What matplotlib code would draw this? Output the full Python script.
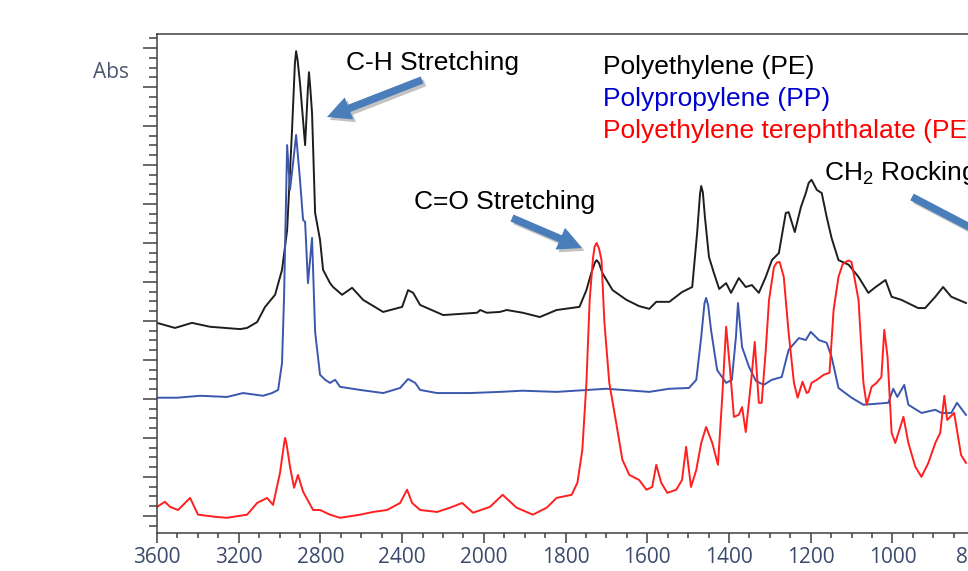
import numpy as np
import matplotlib
matplotlib.use('Agg')
import matplotlib.pyplot as plt
import matplotlib.patheffects as pe
from matplotlib.ticker import FixedLocator, NullFormatter

# wavenumber (cm-1) / absorbance (offset units)
pe_wn = [3600, 3512, 3429, 3340, 3193, 3159, 3110, 3071, 3022, 2988, 2963, 2939, 2925, 2919,
         2912, 2900, 2875, 2862, 2856, 2850, 2841, 2826, 2802, 2787, 2753, 2738, 2694, 2645, 2591, 2493,
         2400, 2371, 2346, 2312, 2199, 2116, 2033, 2018, 1993, 1961, 1944, 1905, 1863,
         1822, 1766, 1749, 1737, 1728, 1724, 1718, 1710, 1685, 1651, 1620, 1595, 1578, 1546, 1515,
         1490, 1478, 1471, 1468, 1464, 1459, 1449, 1437, 1424, 1407, 1395, 1376, 1359, 1344, 1327,
         1310, 1295, 1278, 1261, 1254, 1239, 1224, 1212, 1205, 1198, 1185, 1173, 1161,
         1149, 1132, 1107, 1083, 1059, 1041, 1017, 1002, 978, 937, 920, 895, 876, 856, 820]
pe_abs = [4.95, 4.82, 4.95, 4.85, 4.79, 4.82, 4.97, 5.36, 5.67, 6.31, 7.33, 9.90, 11.6, 11.92,
          11.7, 11.10, 9.51, 10.9, 11.38, 11.0, 10.33, 7.77, 7.08, 6.31, 5.97, 5.87, 5.67, 5.85, 5.54, 5.23,
          5.36, 5.79, 5.72, 5.41, 5.15, 5.18, 5.21, 5.28, 5.21, 5.23, 5.28, 5.21, 5.10,
          5.28, 5.36, 5.79, 6.23, 6.50, 6.56, 6.48, 6.23, 5.79, 5.54, 5.38, 5.31, 5.49, 5.49, 5.74,
          5.87, 7.26, 8.25, 8.46, 8.30, 7.67, 6.64, 6.23, 5.82, 5.97, 5.72, 6.10, 5.87, 5.92, 5.72,
          6.13, 6.56, 6.74, 7.77, 7.79, 7.28, 7.92, 8.28, 8.54, 8.62, 8.36, 8.28, 7.67,
          7.13, 6.56, 6.44, 6.13, 5.72, 5.87, 6.05, 5.62, 5.54, 5.33, 5.33, 5.62, 5.87, 5.62, 5.46]

pp_wn = [3600, 3502, 3389, 3257, 3179, 3081, 3037, 3007, 2988, 2978, 2963, 2949, 2934,
         2919, 2900, 2885, 2875, 2861, 2841, 2826, 2802, 2777, 2753, 2728, 2704, 2606,
         2493, 2410, 2371, 2336, 2312, 2229, 2067, 1961, 1905, 1822, 1700, 1595, 1546,
         1498, 1480, 1468, 1460, 1456, 1451, 1444, 1429, 1407, 1393, 1383, 1378, 1368, 1351, 1334,
         1315, 1295, 1271, 1254, 1229, 1212, 1200, 1180, 1161, 1149, 1132, 1100, 1071,
         1010, 998, 988, 971, 961, 929, 895, 880, 856, 842, 820]
pp_abs = [3.03, 3.03, 3.08, 3.05, 3.15, 3.08, 3.15, 3.23, 3.92, 5.62, 9.51, 8.36, 9.05,
          9.77, 8.62, 7.59, 7.54, 5.97, 7.13, 4.72, 3.62, 3.49, 3.41, 3.49, 3.31, 3.23,
          3.15, 3.28, 3.51, 3.41, 3.23, 3.15, 3.15, 3.18, 3.21, 3.18, 3.26, 3.18, 3.26,
          3.28, 3.49, 4.59, 5.45, 5.59, 5.40, 4.77, 3.74, 3.41, 3.49, 4.59, 5.46, 4.33, 3.82, 3.46,
          3.36, 3.49, 3.56, 4.26, 4.56, 4.51, 4.72, 4.51, 4.44, 4.08, 3.28, 3.03, 2.85,
          2.90, 3.26, 3.05, 3.36, 2.85, 2.64, 2.72, 2.64, 2.64, 2.90, 2.59]

pet_wn = [3600, 3561, 3536, 3497, 3438, 3399, 3306, 3257, 3159, 3110, 3061, 3032, 2998,
          2978, 2973, 2966, 2949, 2929, 2910, 2885, 2836, 2802, 2753, 2704, 2606, 2542, 2474, 2410,
          2376, 2351, 2312, 2229, 2165, 2106, 2053, 1985, 1954, 1920, 1880, 1846, 1822,
          1785, 1771, 1759, 1749, 1741, 1733, 1729, 1724, 1718, 1712, 1705, 1693, 1676, 1661, 1644,
          1620, 1602, 1588, 1578, 1566, 1551, 1529, 1515, 1505, 1493, 1480, 1468, 1456,
          1441, 1427, 1417, 1407, 1398, 1388, 1376, 1368, 1359, 1346, 1337, 1327, 1320,
          1310, 1302, 1290, 1283, 1276, 1266, 1254, 1241, 1232, 1220, 1210, 1205, 1198, 1185,
          1168, 1154, 1144, 1132, 1122, 1115, 1107, 1100, 1083, 1071, 1063, 1051, 1039, 1027, 1020,
          1012, 1002, 993, 973, 961, 944, 929, 912, 895, 883, 873, 866, 849, 832, 820]
pet_abs = [0.23, 0.36, 0.23, 0.15, 0.46, 0.03, -0.03, -0.05, 0.03, 0.33, 0.46, 0.28, 1.10,
           1.85, 2.00, 1.85, 1.26, 0.72, 1.05, 0.62, 0.15, 0.15, 0.03, -0.05, 0.03, 0.10, 0.15, 0.33,
           0.67, 0.33, 0.15, 0.10, 0.21, 0.33, 0.08, 0.23, 0.54, 0.21, 0.03, 0.21, 0.46,
           0.54, 0.85, 1.69, 3.41, 5.54, 6.60, 6.90, 7.00, 6.85, 6.56, 4.97, 3.41, 2.38, 1.44, 1.05,
           0.92, 0.67, 0.74, 1.31, 0.85, 0.59, 0.67, 0.92, 1.77, 0.74, 1.18, 1.87, 2.28,
           1.87, 1.31, 2.97, 4.85, 3.82, 2.54, 2.59, 2.79, 2.15, 3.44, 4.46, 2.90, 2.90,
           4.26, 5.54, 6.38, 6.50, 6.51, 6.13, 4.69, 3.41, 3.03, 3.44, 3.15, 3.18, 3.41, 3.49,
           3.62, 3.67, 5.28, 6.13, 6.45, 6.51, 6.55, 6.51, 5.54, 3.41, 2.85, 3.31, 3.41, 3.56, 4.77,
           4.08, 2.13, 1.87, 2.54, 1.87, 1.26, 1.00, 1.36, 1.87, 2.13, 3.08, 2.46, 2.64, 1.56, 1.36]

major_ticks = [3600, 3200, 2800, 2400, 2000, 1800, 1600, 1400, 1200, 1000, 800]
legend_names = ['Polyethylene (PE)', 'Polypropylene (PP)', 'Polyethylene terephthalate (PET)']


def fwd(w):
    # spectrometer view: 2x expansion below 2000 cm-1
    w = np.asarray(w, dtype=float)
    return np.where(w >= 2000, w, 2 * w - 2000)


def inv(u):
    u = np.asarray(u, dtype=float)
    return np.where(u >= 2000, u, (u + 2000) / 2)


plt.rcParams['font.family'] = ['Open Sans', 'DejaVu Sans']
plt.rcParams['mathtext.fontset'] = 'custom'
plt.rcParams['mathtext.rm'] = 'Liberation Sans'

W, H = 968, 571
fig = plt.figure(figsize=(W / 100, H / 100), dpi=100)
ax = fig.add_axes([157 / W, 38 / H, 858 / W, 499 / H])

ax.plot(pe_wn, pe_abs, color='#1e1e1e', lw=1.4, solid_joinstyle='round')
ax.plot(pp_wn, pp_abs, color='#3b57ad', lw=1.4, solid_joinstyle='round')
ax.plot(pet_wn, pet_abs, color='#ff1f1f', lw=1.4, solid_joinstyle='round')

ax.set_xscale('function', functions=(fwd, inv))
ax.set_xlim(3600, 700)
ax.set_ylim(-0.44, 12.36)

minor_x = list(range(3600, 2000, -100)) + list(range(2000, 699, -50))
ax.xaxis.set_major_locator(FixedLocator(major_ticks))
ax.xaxis.set_minor_locator(FixedLocator(minor_x))
ax.xaxis.set_minor_formatter(NullFormatter())
ax.set_xticklabels([str(t) for t in major_ticks])

ax.yaxis.set_major_locator(FixedLocator(np.arange(0, 13, 1)))
ax.yaxis.set_minor_locator(FixedLocator(np.arange(-0.25, 12.3, 0.25)))
ax.yaxis.set_major_formatter(NullFormatter())

axis_col = '#404040'
for s in ['left', 'bottom', 'top']:
    ax.spines[s].set_color(axis_col)
    ax.spines[s].set_linewidth(1.1)
ax.spines['right'].set_visible(False)

ax.tick_params(axis='x', which='major', direction='out', length=7.2, width=1.1,
               color=axis_col, labelsize=15, labelcolor='#3b4a6b', pad=3)
ax.tick_params(axis='x', which='minor', direction='out', length=3.6, width=1.1, color=axis_col)
ax.tick_params(axis='y', which='major', direction='out', length=10, width=1.1, color=axis_col)
ax.tick_params(axis='y', which='minor', direction='out', length=5.8, width=1.1, color=axis_col)

fig.text(93 / W, 1 - 73 / H, 'Abs', fontsize=15, color='#4a5670', va='center', ha='left')

lab = dict(fontsize=19, family='Liberation Sans', va='baseline', ha='left')
fig.text(346 / W, 1 - 70 / H, 'C-H Stretching', color='black', **lab)
fig.text(414 / W, 1 - 209 / H, 'C=O Stretching', color='black', **lab)
fig.text(824 / W, 1 - 180 / H, r'CH$_\mathregular{2}$ Rocking', color='black', **lab)

leg_cols = ['black', '#0000d0', '#ff0000']
for i, (name, c) in enumerate(zip(legend_names, leg_cols)):
    fig.text(603 / W, 1 - (74 + 32 * i) / H, name, color=c, **lab)

arrows = [((422, 80), (327, 117)), ((512, 218), (582, 248)), ((912, 197), (1000, 243))]
for (x0, y0), (x1, y1) in arrows:
    ax.annotate('', xy=(x1, H - y1), xytext=(x0, H - y0), xycoords='figure pixels',
                textcoords='figure pixels', annotation_clip=False,
                arrowprops=dict(arrowstyle='simple,head_length=1.0,head_width=1.0,tail_width=0.32',
                                mutation_scale=17, fc='#4a7ebb', ec='none', shrinkA=0, shrinkB=0,
                                path_effects=[pe.withSimplePatchShadow(offset=(2, -2), shadow_rgbFace='#888888', alpha=0.5)]))

fig.savefig('out.png', dpi=100)
